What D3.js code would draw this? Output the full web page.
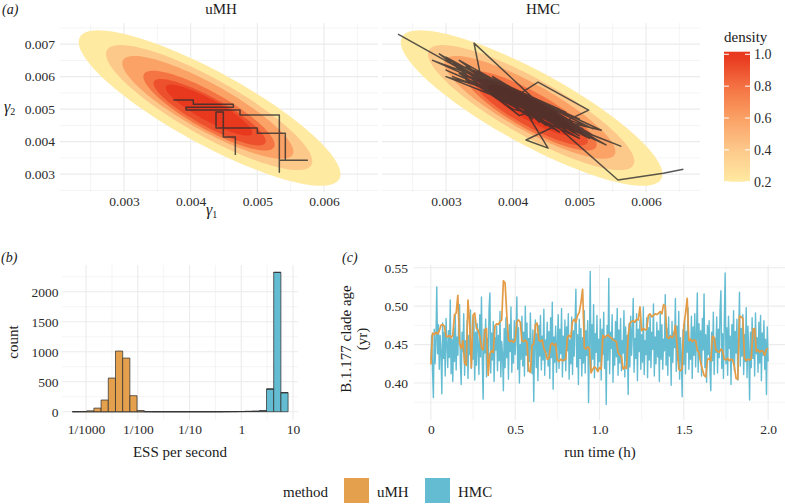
<!DOCTYPE html>
<html><head><meta charset="utf-8">
<script src="https://cdn.jsdelivr.net/npm/d3@7/dist/d3.min.js"></script>
<style>
html,body{margin:0;padding:0;background:#fff;}
svg{display:block;}
svg text{font-family:"Liberation Serif","Times New Roman",serif;}
</style></head><body>
<svg id="chart" width="785" height="504"></svg>
<script>
// ================= DATA =================
const methods = ["uMH", "HMC"];
// panel (a): axis breaks
const gammaTicks1 = [0.003, 0.004, 0.005, 0.006];
const gammaMinor1 = [0.0025, 0.0035, 0.0045, 0.0055, 0.0065];
const gammaTicks2 = [0.003, 0.004, 0.005, 0.006, 0.007];
const gammaMinor2 = [0.0025, 0.0035, 0.0045, 0.0055, 0.0065, 0.0075];
const densityTicks = [0.2, 0.4, 0.6, 0.8, 1.0];
// density contour bands (outer -> inner): fill level, long-axis tips and half height at centre (gamma2 units)
const contourLevel = [0.2, 0.4, 0.6, 0.8, 0.92, 1.0];
const contourTipAg1 = [0.002338, 0.002744, 0.002985, 0.003300, 0.003450, 0.003630];
const contourTipAg2 = [0.007215, 0.006815, 0.006508, 0.006080, 0.005850, 0.005700];
const contourTipBg1 = [0.006230, 0.005810, 0.005530, 0.005250, 0.005120, 0.004920];
const contourTipBg2 = [0.002850, 0.003280, 0.003600, 0.003830, 0.003960, 0.004240];
const contourHalfG2 = [0.00126, 0.00099, 0.00081, 0.00064, 0.00050, 0.00037];
// uMH trace
const umhG1 = [0.00374, 0.00404, 0.00404, 0.00464, 0.00464, 0.00393, 0.00393, 0.00474, 0.00474, 0.00533, 0.00533, 0.00533, 0.00575, 0.00542, 0.00542, 0.00500, 0.00500, 0.00438, 0.00438, 0.00449, 0.00449, 0.00467, 0.00467];
const umhG2 = [0.00528, 0.00528, 0.00515, 0.00515, 0.00506, 0.00506, 0.00497, 0.00497, 0.00482, 0.00482, 0.00306, 0.00343, 0.00343, 0.00343, 0.00426, 0.00426, 0.00442, 0.00442, 0.00491, 0.00491, 0.00414, 0.00414, 0.00359];
// HMC trace
const hmcG1 = [0.00228, 0.00440, 0.00310, 0.00480, 0.00342, 0.00356, 0.00470, 0.00300, 0.00520, 0.00370,
  0.00460, 0.00320, 0.00500, 0.00390, 0.00438, 0.00514, 0.00420, 0.00453, 0.00400, 0.00280,
  0.00480, 0.00350, 0.00540, 0.00330, 0.00450, 0.00410, 0.00290, 0.00500, 0.00380, 0.00562,
  0.00300, 0.00470, 0.00360, 0.00533, 0.00400, 0.00320, 0.00490, 0.00440, 0.00340, 0.00510,
  0.00390, 0.00460, 0.00300, 0.00430, 0.00370, 0.00480, 0.00330, 0.00450, 0.00420, 0.00500,
  0.00350, 0.00470, 0.00400, 0.00310, 0.00520, 0.00380, 0.00440, 0.00410,
  0.00365, 0.00478, 0.00392, 0.00505, 0.00372, 0.00462, 0.00345, 0.00495, 0.00405, 0.00470,
  0.00355, 0.00488, 0.00380, 0.00455, 0.00335, 0.00512, 0.00398, 0.00448, 0.00362, 0.00482,
  0.00385, 0.00468, 0.00350, 0.00500, 0.00412, 0.00458, 0.00370, 0.00492, 0.00395, 0.00475,
  0.00340, 0.00508, 0.00388, 0.00452, 0.00358, 0.00485, 0.00402, 0.00465, 0.00375, 0.00498,
  0.00418, 0.00472, 0.00348, 0.00515, 0.00383, 0.00445, 0.00366, 0.00490, 0.00408, 0.00460,
  0.00352, 0.00480, 0.00390, 0.00502, 0.00378, 0.00466, 0.00344, 0.00486, 0.00400, 0.00456,
  0.00368, 0.00496, 0.00415, 0.00474, 0.00360, 0.00506, 0.00386, 0.00450, 0.00374, 0.00488,
  0.00396, 0.00462, 0.00356, 0.00494, 0.00410, 0.00470, 0.00382, 0.00484, 0.00364, 0.00454,
  0.00558, 0.00626, 0.00656];
const hmcG2 = [0.00731, 0.00488, 0.00640, 0.00440, 0.00703, 0.00560, 0.00470, 0.00620, 0.00420, 0.00600,
  0.00440, 0.00650, 0.00445, 0.00520, 0.00583, 0.00497, 0.00405, 0.00380, 0.00560, 0.00650,
  0.00470, 0.00610, 0.00390, 0.00590, 0.00510, 0.00480, 0.00670, 0.00410, 0.00530, 0.00386,
  0.00600, 0.00500, 0.00600, 0.00435, 0.00500, 0.00610, 0.00460, 0.00520, 0.00580, 0.00430,
  0.00570, 0.00480, 0.00660, 0.00470, 0.00550, 0.00490, 0.00630, 0.00450, 0.00540, 0.00470,
  0.00570, 0.00430, 0.00530, 0.00600, 0.00440, 0.00580, 0.00460, 0.00550,
  0.00590, 0.00462, 0.00530, 0.00440, 0.00560, 0.00485, 0.00615, 0.00425, 0.00550, 0.00445,
  0.00575, 0.00455, 0.00575, 0.00470, 0.00600, 0.00420, 0.00555, 0.00475, 0.00595, 0.00440,
  0.00540, 0.00480, 0.00600, 0.00418, 0.00540, 0.00460, 0.00585, 0.00448, 0.00528, 0.00470,
  0.00595, 0.00430, 0.00565, 0.00480, 0.00570, 0.00460, 0.00525, 0.00455, 0.00575, 0.00440,
  0.00505, 0.00475, 0.00585, 0.00410, 0.00570, 0.00478, 0.00580, 0.00432, 0.00545, 0.00465,
  0.00605, 0.00455, 0.00535, 0.00435, 0.00555, 0.00472, 0.00608, 0.00442, 0.00548, 0.00478,
  0.00570, 0.00450, 0.00530, 0.00450, 0.00588, 0.00425, 0.00550, 0.00490, 0.00568, 0.00448,
  0.00542, 0.00462, 0.00592, 0.00438, 0.00520, 0.00468, 0.00560, 0.00450, 0.00578, 0.00470,
  0.00282, 0.00303, 0.00315];
// panel (b): histogram of ESS per second
const essBinEdges = [0.000543, 0.000748, 0.001030, 0.001419, 0.001954, 0.002692, 0.003707, 0.005105, 0.007031, 0.009683,
  0.01334, 0.01837, 0.02529, 0.03483, 0.04797, 0.06607, 0.09099, 0.1253, 0.1726, 0.2377,
  0.3273, 0.4508, 0.6209, 0.8551, 1.178, 1.622, 2.234, 3.076, 4.236, 5.834, 8.035];
const essCountsUMH = [2, 3, 15, 60, 195, 561, 1011, 894, 267, 20, 2, 0, 0, 0, 0, 0, 0, 0, 0, 0, 0, 0, 0, 0, 0, 0, 0, 0, 0, 0];
const essCountsHMC = [0, 0, 0, 0, 0, 0, 0, 0, 0, 0, 0, 0, 0, 0, 0, 0, 0, 0, 0, 0, 0, 1, 2, 3, 5, 7, 15, 378, 2322, 317];
const essTicks = [0.001, 0.01, 0.1, 1, 10];
const essTickLabels = ["1/1000", "1/100", "1/10", "1", "10"];
const essMinor = [0.003162, 0.03162, 0.3162, 3.162];
const countTicks = [0, 500, 1000, 1500, 2000];
const countMinor = [250, 750, 1250, 1750, 2250];
// panel (c): clade age traces
const timeTicks = [0, 0.5, 1.0, 1.5, 2.0];
const timeMinor = [0.25, 0.75, 1.25, 1.75];
const ageTicks = [0.40, 0.45, 0.50, 0.55];
const ageMinor = [0.375, 0.425, 0.475, 0.525];
const umhSampleHours = 0.01;
const hmcSampleHours = 0.005;
const cladeAgeUMH = [
  0.424, 0.465, 0.463, 0.466, 0.464, 0.468, 0.475, 0.476, 0.474, 0.461,
  0.460, 0.462, 0.459, 0.462, 0.489, 0.491, 0.514, 0.452, 0.445, 0.455,
  0.426, 0.423, 0.508, 0.477, 0.420, 0.488, 0.491, 0.471, 0.469, 0.461,
  0.446, 0.443, 0.469, 0.471, 0.410, 0.438, 0.442, 0.440, 0.474, 0.477,
  0.476, 0.480, 0.482, 0.533, 0.530, 0.490, 0.456, 0.454, 0.455, 0.453,
  0.456, 0.480, 0.482, 0.479, 0.455, 0.454, 0.456, 0.453, 0.416, 0.414,
  0.449, 0.451, 0.476, 0.478, 0.456, 0.454, 0.456, 0.445, 0.440, 0.431,
  0.432, 0.450, 0.452, 0.449, 0.451, 0.430, 0.428, 0.431, 0.429, 0.430,
  0.431, 0.460, 0.462, 0.459, 0.480, 0.483, 0.479, 0.488, 0.492, 0.505,
  0.522, 0.446, 0.444, 0.447, 0.445, 0.413, 0.418, 0.421, 0.419, 0.415,
  0.420, 0.418, 0.462, 0.459, 0.461, 0.463, 0.460, 0.459, 0.456, 0.455,
  0.454, 0.440, 0.436, 0.434, 0.418, 0.421, 0.419, 0.462, 0.478, 0.480,
  0.481, 0.479, 0.483, 0.482, 0.499, 0.468, 0.471, 0.469, 0.470, 0.488,
  0.490, 0.486, 0.488, 0.490, 0.489, 0.491, 0.493, 0.490, 0.502, 0.500,
  0.460, 0.458, 0.461, 0.459, 0.462, 0.475, 0.449, 0.418, 0.416, 0.419,
  0.475, 0.490, 0.510, 0.455, 0.457, 0.454, 0.456, 0.455, 0.442, 0.440,
  0.426, 0.418, 0.410, 0.408, 0.430, 0.432, 0.429, 0.461, 0.459, 0.443,
  0.441, 0.440, 0.444, 0.442, 0.431, 0.430, 0.432, 0.429, 0.431, 0.430,
  0.421, 0.406, 0.405, 0.487, 0.486, 0.484, 0.432, 0.429, 0.431, 0.430,
  0.432, 0.470, 0.471, 0.441, 0.443, 0.440, 0.442, 0.441, 0.436, 0.444, 0.445];
const cladeAgeHMC = [
  0.430, 0.462, 0.415, 0.381, 0.470, 0.425, 0.455, 0.525, 0.438, 0.476,
  0.418, 0.462, 0.440, 0.386, 0.478, 0.432, 0.466, 0.409, 0.484, 0.451,
  0.420, 0.468, 0.433, 0.508, 0.412, 0.457, 0.402, 0.472, 0.428, 0.488,
  0.417, 0.460, 0.436, 0.479, 0.502, 0.424, 0.398, 0.466, 0.441, 0.490,
  0.410, 0.455, 0.427, 0.481, 0.406, 0.462, 0.437, 0.495, 0.419, 0.452,
  0.431, 0.486, 0.404, 0.466, 0.423, 0.477, 0.445, 0.411, 0.489, 0.434,
  0.512, 0.426, 0.379, 0.470, 0.439, 0.483, 0.408, 0.458, 0.421, 0.497,
  0.517, 0.413, 0.465, 0.430, 0.480, 0.402, 0.459, 0.443, 0.474, 0.416,
  0.462, 0.429, 0.493, 0.408, 0.454, 0.438, 0.390, 0.471, 0.420, 0.485,
  0.433, 0.468, 0.405, 0.476, 0.441, 0.499, 0.414, 0.457, 0.426, 0.481,
  0.437, 0.464, 0.512, 0.418, 0.472, 0.400, 0.450, 0.431, 0.487, 0.422,
  0.466, 0.409, 0.500, 0.436, 0.478, 0.415, 0.458, 0.428, 0.491, 0.444,
  0.412, 0.469, 0.376, 0.452, 0.482, 0.420, 0.464, 0.403, 0.475, 0.435,
  0.488, 0.417, 0.461, 0.430, 0.496, 0.410, 0.456, 0.440, 0.479, 0.422,
  0.467, 0.406, 0.485, 0.433, 0.505, 0.392, 0.460, 0.427, 0.474, 0.414,
  0.453, 0.489, 0.419, 0.470, 0.438, 0.497, 0.408, 0.461, 0.429, 0.482,
  0.416, 0.473, 0.442, 0.490, 0.405, 0.456, 0.425, 0.486, 0.411, 0.468,
  0.435, 0.478, 0.522, 0.421, 0.463, 0.398, 0.483, 0.432, 0.471, 0.409,
  0.459, 0.426, 0.494, 0.413, 0.468, 0.436, 0.481, 0.3745, 0.452, 0.545,
  0.418, 0.476, 0.431, 0.502, 0.407, 0.464, 0.440, 0.488, 0.415, 0.457,
  0.428, 0.483, 0.404, 0.470, 0.437, 0.492, 0.419, 0.461, 0.372, 0.475,
  0.430, 0.536, 0.412, 0.466, 0.445, 0.489, 0.401, 0.458, 0.423, 0.480,
  0.434, 0.497, 0.410, 0.469, 0.426, 0.484, 0.416, 0.455, 0.439, 0.494,
  0.408, 0.473, 0.429, 0.462, 0.385, 0.477, 0.421, 0.487, 0.436, 0.465,
  0.510, 0.414, 0.458, 0.432, 0.490, 0.403, 0.470, 0.441, 0.482, 0.418,
  0.463, 0.427, 0.499, 0.411, 0.455, 0.437, 0.485, 0.407, 0.472, 0.430,
  0.488, 0.420, 0.466, 0.444, 0.503, 0.409, 0.460, 0.425, 0.479, 0.434,
  0.468, 0.402, 0.491, 0.431, 0.476, 0.418, 0.457, 0.442, 0.515, 0.423,
  0.471, 0.410, 0.486, 0.435, 0.462, 0.397, 0.480, 0.427, 0.466, 0.446,
  0.510, 0.415, 0.474, 0.429, 0.493, 0.405, 0.459, 0.438, 0.382, 0.469,
  0.424, 0.482, 0.412, 0.467, 0.440, 0.498, 0.418, 0.456, 0.431, 0.487,
  0.406, 0.473, 0.436, 0.490, 0.421, 0.461, 0.517, 0.414, 0.477, 0.432,
  0.468, 0.409, 0.484, 0.443, 0.516, 0.420, 0.463, 0.401, 0.475, 0.437,
  0.481, 0.417, 0.390, 0.466, 0.429, 0.492, 0.411, 0.458, 0.440, 0.486,
  0.413, 0.470, 0.433, 0.496, 0.520, 0.419, 0.464, 0.406, 0.480, 0.543,
  0.425, 0.472, 0.410, 0.487, 0.445, 0.461, 0.398, 0.476, 0.430, 0.494,
  0.416, 0.467, 0.439, 0.483, 0.404, 0.455, 0.518, 0.422, 0.471, 0.435,
  0.489, 0.411, 0.463, 0.428, 0.498, 0.407, 0.474, 0.442, 0.378, 0.466,
  0.420, 0.485, 0.432, 0.470, 0.409, 0.491, 0.438, 0.459, 0.414, 0.479,
  0.426, 0.488, 0.403, 0.465, 0.436, 0.481, 0.418, 0.457, 0.385, 0.473,
  0.428];

// ================= STYLE =================
const FONT = '"Liberation Serif","Times New Roman",serif';
const methodColor = {uMH: "#E5A04D", HMC: "#64BCD2"};
const gridCol = "#EBEBEB";
const textCol = "#1a1a1a";
const tickCol = "#2b2b2b";

const svg = d3.select("#chart");
svg.append("rect").attr("width", 785).attr("height", 504).attr("fill", "#fff");

function addGrid(g, xs, ys, xMaj, xMin, yMaj, yMin) {
  const [x0, x1] = xs.range(), [y1, y0] = ys.range();
  const line = (sel, data, vertical, w) => sel.selectAll(null).data(data).join("line")
    .attr("x1", d => vertical ? xs(d) : x0).attr("x2", d => vertical ? xs(d) : x1)
    .attr("y1", d => vertical ? y0 : ys(d)).attr("y2", d => vertical ? y1 : ys(d))
    .attr("stroke", gridCol).attr("stroke-width", w);
  line(g, xMin, true, 0.55); line(g, yMin, false, 0.55);
  line(g, xMaj, true, 1.1); line(g, yMaj, false, 1.1);
}
function styleAxis(g, size) {
  g.attr("font-family", null).attr("font-size", null);
  g.select(".domain").remove();
  g.selectAll(".tick line").remove();
  g.selectAll("text").style("font-family", FONT).style("font-size", size + "px").attr("fill", tickCol);
}
function txt(x, y, s, opts = {}) {
  const t = svg.append("text").attr("x", x).attr("y", y).text(s)
    .style("font-family", FONT).style("font-size", (opts.size || 15) + "px").attr("fill", opts.fill || textCol)
    .attr("text-anchor", opts.anchor || "start");
  if (opts.italic) t.style("font-style", "italic");
  if (opts.rotate) t.attr("transform", `rotate(-90,${x},${y})`);
  return t;
}

// ================= PANEL (a) =================
const aY = d3.scaleLinear().domain([0.00245, 0.00765]).range([192, 23]);
const aPanels = [{m: "uMH", x0: 60, x1: 378}, {m: "HMC", x0: 382, x1: 700}];
const densColor = d3.scaleLinear().domain([0.2, 0.4, 0.6, 0.8, 1.0])
  .range(["#FFEAA2", "#FDC98B", "#FBA266", "#F47444", "#E8381E"]);

function ellipsePoints(xs, ys, i) {
  const p1 = [xs(contourTipAg1[i]), ys(contourTipAg2[i])];
  const p2 = [xs(contourTipBg1[i]), ys(contourTipBg2[i])];
  const cx = (p1[0] + p2[0]) / 2, cy = (p1[1] + p2[1]) / 2;
  const dx = (p2[0] - p1[0]) / 2, dy = (p2[1] - p1[1]) / 2;
  const a = Math.hypot(dx, dy), ux = dx / a, uy = dy / a;
  const t = Math.abs(ys(ys.invert(cy) - contourHalfG2[i]) - cy);
  const b = Math.abs(ux) / Math.sqrt(1 / (t * t) - (uy * uy) / (a * a));
  return d3.range(120).map(k => {
    const th = 2 * Math.PI * k / 120;
    return [cx + a * Math.cos(th) * ux - b * Math.sin(th) * uy,
            cy + a * Math.cos(th) * uy + b * Math.sin(th) * ux];
  });
}

const defs = svg.append("defs");
aPanels.forEach((p, pi) => {
  const xs = d3.scaleLinear().domain([0.00204, 0.00681]).range([p.x0, p.x1]);
  const g = svg.append("g");
  addGrid(g, xs, aY, gammaTicks1, gammaMinor1, gammaTicks2, gammaMinor2);
  defs.append("clipPath").attr("id", "clipA" + pi).append("rect")
    .attr("x", p.x0).attr("y", 23).attr("width", p.x1 - p.x0).attr("height", 169);
  const cg = g.append("g").attr("clip-path", `url(#clipA${pi})`);
  contourLevel.forEach((lv, i) => {
    cg.append("path").attr("d", d3.line().curve(d3.curveLinearClosed)(ellipsePoints(xs, aY, i)))
      .attr("fill", densColor(lv)).attr("stroke", "none");
  });
  const gx = p.m === "uMH" ? umhG1 : hmcG1;
  const gy = p.m === "uMH" ? umhG2 : hmcG2;
  cg.append("path").attr("d", d3.line().x((d, j) => xs(gx[j])).y((d, j) => aY(gy[j]))(gx))
    .attr("fill", "none").attr("stroke", "#2e2e2e").attr("stroke-opacity", 0.8)
    .attr("stroke-width", 1.5).attr("stroke-linejoin", "round");
  const ax = g.append("g").attr("transform", "translate(0,192)")
    .call(d3.axisBottom(xs).tickValues(gammaTicks1).tickFormat(d3.format(".3f")).tickSize(0).tickPadding(4.5));
  styleAxis(ax, 13.5);
  txt((p.x0 + p.x1) / 2 + 2, 13.5, p.m, {anchor: "middle", size: 15});
});
const ayA = svg.append("g").attr("transform", "translate(58,0)")
  .call(d3.axisLeft(aY).tickValues(gammaTicks2).tickFormat(d3.format(".3f")).tickSize(0).tickPadding(3));
styleAxis(ayA, 13.5);
txt(2, 14, "(a)", {italic: true, size: 14});
const g2 = txt(4, 112, "γ", {italic: true, size: 16});
g2.append("tspan").style("font-size", "10px").style("font-style", "normal").attr("dy", 3).text("2");
const g1 = txt(206, 215, "γ", {italic: true, size: 16});
g1.append("tspan").style("font-size", "10px").style("font-style", "normal").attr("dy", 3).text("1");

// colour bar
const cbY = d3.scaleLinear().domain([0.2, 1.0]).range([181.7, 54.3]);
const grad = defs.append("linearGradient").attr("id", "cbgrad").attr("x1", 0).attr("x2", 0).attr("y1", 1).attr("y2", 0);
d3.range(0, 1.0001, 0.05).forEach(f => {
  grad.append("stop").attr("offset", f).attr("stop-color", densColor(Math.min(1, 0.2 + f * 0.83)));
});
svg.append("rect").attr("x", 724).attr("y", 51.7).attr("width", 26).attr("height", 130)
  .attr("fill", "url(#cbgrad)");
densityTicks.forEach(v => {
  svg.append("line").attr("x1", 724).attr("x2", 729).attr("y1", cbY(v)).attr("y2", cbY(v)).attr("stroke", "#fff").attr("stroke-width", 1);
  svg.append("line").attr("x1", 745).attr("x2", 750).attr("y1", cbY(v)).attr("y2", cbY(v)).attr("stroke", "#fff").attr("stroke-width", 1);
});
const cbAxis = svg.append("g").attr("transform", "translate(750,0)")
  .call(d3.axisRight(cbY).tickValues(densityTicks).tickFormat(d3.format(".1f")).tickSize(0).tickPadding(4));
styleAxis(cbAxis, 14);
txt(724, 42, "density", {size: 15});

// ================= PANEL (b) =================
const bX = d3.scaleLog().domain([0.000343, 12.49]).range([62, 298]);
const bY = d3.scaleLinear().domain([-138, 2445]).range([420, 265]);
const gb = svg.append("g");
addGrid(gb, bX, bY, essTicks, essMinor, countTicks, countMinor);
const bars = [];
essCountsHMC.forEach((c, i) => bars.push({lo: essBinEdges[i], hi: essBinEdges[i + 1], y0: 0, y1: c, m: "HMC"}));
essCountsUMH.forEach((c, i) => bars.push({lo: essBinEdges[i], hi: essBinEdges[i + 1], y0: essCountsHMC[i], y1: essCountsHMC[i] + c, m: "uMH"}));
gb.selectAll("path.bar").data(bars).join("path").attr("class", "bar")
  .attr("d", d => `M${bX(d.lo)},${bY(d.y0)}V${bY(d.y1)}H${bX(d.hi)}V${bY(d.y0)}Z`)
  .attr("fill", d => methodColor[d.m]).attr("stroke", "#333").attr("stroke-width", 0.75);
const bxAxis = gb.append("g").attr("transform", "translate(0,420)")
  .call(d3.axisBottom(bX).tickValues(essTicks).tickFormat((d, i) => essTickLabels[i]).tickSize(0).tickPadding(4.5));
styleAxis(bxAxis, 13.5);
const byAxis = gb.append("g").attr("transform", "translate(62,0)")
  .call(d3.axisLeft(bY).tickValues(countTicks).tickFormat(d3.format("d")).tickSize(0).tickPadding(3.5));
styleAxis(byAxis, 13.5);
txt(1, 262, "(b)", {italic: true, size: 14});
txt(18, 342, "count", {anchor: "middle", rotate: true, size: 15});
txt(180, 457, "ESS per second", {anchor: "middle", size: 15});

// ================= PANEL (c) =================
const cX = d3.scaleLinear().domain([-0.1, 2.1]).range([414, 785]);
const cY = d3.scaleLinear().domain([0.3519, 0.5535]).range([420, 265]);
const gc = svg.append("g");
addGrid(gc, cX, cY, timeTicks, timeMinor, ageTicks, ageMinor);
defs.append("clipPath").attr("id", "clipC").append("rect").attr("x", 414).attr("y", 265).attr("width", 371).attr("height", 155);
const cc = gc.append("g").attr("clip-path", "url(#clipC)");
cc.append("path").attr("d", d3.line().x((d, i) => cX(i * hmcSampleHours)).y(d => cY(d))(cladeAgeHMC))
  .attr("fill", "none").attr("stroke", methodColor.HMC).attr("stroke-width", 1.4).attr("stroke-linejoin", "round");
cc.append("path").attr("d", d3.line().x((d, i) => cX(i * umhSampleHours)).y(d => cY(d))(cladeAgeUMH))
  .attr("fill", "none").attr("stroke", "#E39B45").attr("stroke-width", 1.7).attr("stroke-linejoin", "round");
const cxAxis = gc.append("g").attr("transform", "translate(0,420)")
  .call(d3.axisBottom(cX).tickValues(timeTicks).tickFormat(d => d === 0 ? "0" : d3.format(".1f")(d)).tickSize(0).tickPadding(4.5));
styleAxis(cxAxis, 13.5);
const cyAxis = gc.append("g").attr("transform", "translate(414,0)")
  .call(d3.axisLeft(cY).tickValues(ageTicks).tickFormat(d3.format(".2f")).tickSize(0).tickPadding(6));
styleAxis(cyAxis, 13.5);
txt(342, 262, "(c)", {italic: true, size: 14});
txt(351, 339, "B.1.177 clade age", {anchor: "middle", rotate: true, size: 15});
txt(367, 339, "(yr)", {anchor: "middle", rotate: true, size: 15});
txt(600, 457, "run time (h)", {anchor: "middle", size: 15});

// ================= LEGEND =================
txt(283, 497, "method", {size: 15});
const legX = [344, 425];
methods.forEach((m, i) => {
  svg.append("rect").attr("x", legX[i]).attr("y", 478).attr("width", 25).attr("height", 25).attr("fill", methodColor[m]);
  txt(legX[i] + 33, 497, m, {size: 15});
});
</script>
</body></html>
